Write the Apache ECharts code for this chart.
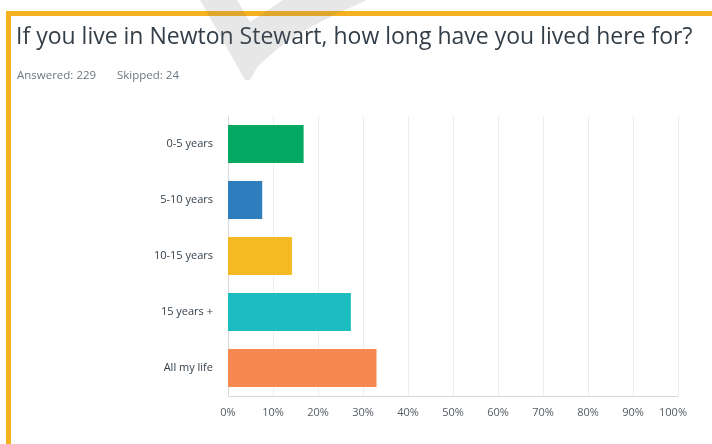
<!DOCTYPE html>
<html>
<head>
<meta charset="utf-8">
<script src="https://cdn.jsdelivr.net/npm/echarts@6/dist/echarts.min.js"></script>
<style>
  html, body { margin: 0; padding: 0; background: #fff; }
  #chart { width: 712px; height: 444px; }
</style>
</head>
<body>
<div id="chart"></div>
<script>
// survey answers (percent of respondents)
const categories = ['0-5 years', '5-10 years', '10-15 years', '15 years +', 'All my life'];
const percents = [16.8, 7.6, 14.2, 27.3, 33.0];
const barColors = ['#03a862', '#2e7dbd', '#f4b923', '#1bbdc1', '#f6874f'];

const titleText = 'If you live in Newton Stewart, how long have you lived here for?';
const answered = 'Answered: 229';
const skipped = 'Skipped: 24';

const myChart = echarts.init(document.getElementById('chart'));

const option = {
  backgroundColor: '#fff',
  animation: false,
  grid: { left: 228, right: 34, top: 116, bottom: 48 },
  xAxis: {
    type: 'value',
    min: 0,
    max: 100,
    interval: 10,
    axisLine: { show: true, lineStyle: { color: '#d9d9d9' } },
    axisTick: { show: false },
    axisLabel: {
      // the last label sits a little left of its grid line
      formatter: v => v === 100 ? '{last|100%}' : v + '%',
      rich: { last: { padding: [0, 10, 0, 0], color: '#555b61', fontFamily: 'Open Sans', fontSize: 11 } },
      color: '#555b61',
      fontFamily: 'Open Sans',
      fontSize: 11,
      margin: 11
    },
    splitLine: { show: true, lineStyle: { color: '#ededed' } }
  },
  yAxis: {
    type: 'category',
    inverse: true,
    data: categories,
    axisLine: { show: true, lineStyle: { color: '#d9d9d9' } },
    axisTick: { show: false },
    axisLabel: {
      color: '#333e48',
      fontFamily: 'Open Sans',
      fontSize: 11,
      margin: 15
    }
  },
  series: [{
    type: 'bar',
    barWidth: 38,
    data: percents.map((v, i) => ({ value: v, itemStyle: { color: barColors[i] } }))
  }],
  graphic: [
    // yellow frame round the question
    { type: 'rect', left: 6, top: 11, shape: { width: 706, height: 5 }, style: { fill: '#f6b11e' } },
    { type: 'rect', left: 6, top: 11, shape: { width: 5, height: 433 }, style: { fill: '#f6b11e' } },
    {
      type: 'text', left: 16, top: 26,
      style: { text: titleText, fill: '#333e48', font: '23px "Open Sans"' }
    },
    {
      type: 'text', left: 17, top: 70,
      style: { text: answered, fill: '#6b7780', font: '11.5px "Open Sans"' }
    },
    {
      type: 'text', left: 117, top: 70,
      style: { text: skipped, fill: '#6b7780', font: '11.5px "Open Sans"' }
    },
    // faint grey check mark behind the heading
    {
      type: 'polygon', z: 100,
      shape: {
        points: [[200, 0], [245, 80], [250, 80], [258, 66], [276, 50], [300, 33], [330, 17], [367, 0],
                 [283, 0], [265, 12], [250, 22], [237, 0]]
      },
      style: { fill: 'rgba(110,110,120,0.17)' }
    }
  ]
};

myChart.setOption(option);
</script>
</body>
</html>
